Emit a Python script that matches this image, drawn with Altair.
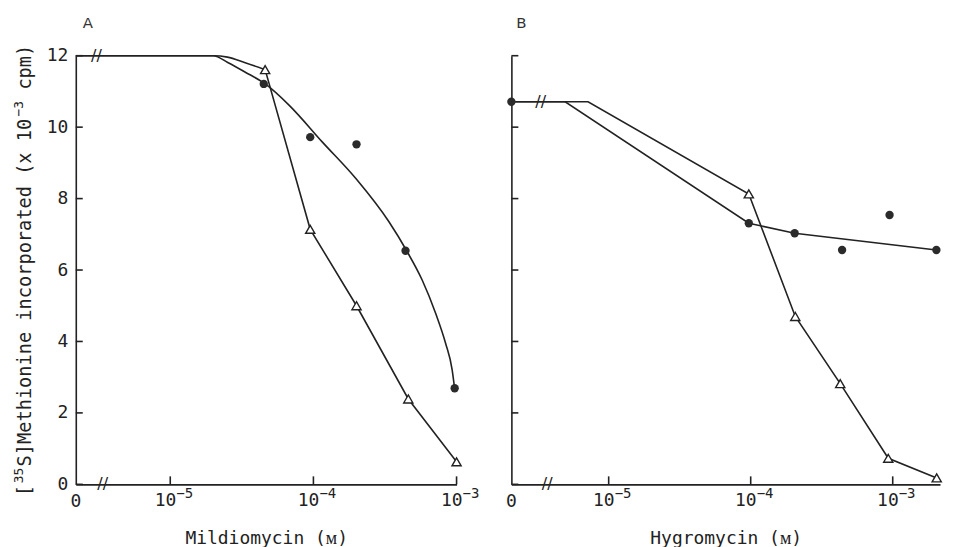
import altair as alt
import pandas as pd
import numpy as np

# ---------------- Panel A : Mildiomycin ----------------
A_TRI_CONC = [4.6e-5, 9.5e-5, 2.0e-4, 4.6e-4, 1.0e-3]
A_TRI_VAL = [11.61, 7.14, 5.00, 2.39, 0.63]
A_CIR_CONC = [4.5e-5, 9.5e-5, 2.0e-4, 4.4e-4, 9.7e-4]
A_CIR_VAL = [11.21, 9.72, 9.52, 6.54, 2.69]
# curved start of the triangle line, as drawn
A_TRI_CURVE_CONC = [0, 2.0e-5, 2.51e-5, 3.30e-5, 4.6e-5]
A_TRI_CURVE_VAL = [12.0, 12.0, 11.96, 11.81, 11.61]
# smooth curve drawn through the circles
A_FIT_CONC = [0, 2.0e-5, 2.52e-5, 3.30e-5, 4.61e-5, 6.78e-5, 1.156e-4, 1.98e-4,
              3.37e-4, 4.48e-4, 5.75e-4, 7.14e-4, 8.38e-4, 9.31e-4, 9.68e-4]
A_FIT_VAL = [12.0, 12.0, 11.81, 11.55, 11.21, 10.61, 9.58, 8.56,
             7.35, 6.54, 5.72, 4.79, 3.95, 3.21, 2.70]

# ---------------- Panel B : Hygromycin ----------------
B_CIR_CONC = [0, 9.7e-5, 2.04e-4, 4.4e-4, 9.5e-4, 2.03e-3]
B_CIR_VAL = [10.71, 7.31, 7.03, 6.56, 7.54, 6.56]
B_TRI_CONC = [9.7e-5, 2.06e-4, 4.27e-4, 9.3e-4, 2.04e-3]
B_TRI_VAL = [8.13, 4.70, 2.82, 0.73, 0.18]
B_CIR_LINE_CONC = [0, 4.94e-6, 9.7e-5, 2.04e-4, 2.03e-3]
B_CIR_LINE_VAL = [10.71, 10.71, 7.31, 7.03, 6.56]
B_TRI_LINE_CONC = [0, 7.16e-6] + B_TRI_CONC
B_TRI_LINE_VAL = [10.71, 10.71] + B_TRI_VAL

Y_TICKS = [0, 2, 4, 6, 8, 10, 12]
X_TICK_EXP = [-5, -4, -3]

# y title pieces: text, is superscript
Y_TITLE_PARTS = ["[", "35", "S]Methionine incorporated (x 10", "\u22123", "cpm)"]
Y_TITLE_SUP = [False, True, False, True, False]
Y_TITLE_START = [442, 429, 412, 61, 34]   # px from plot top where each piece begins

MONO = "DejaVu Sans Mono"
INK = "#222222"
H = 430


def xpos(conc, zero):
    return [float(np.log10(c)) if c > 0 else zero for c in conc]


def df_of(conc, val, zero):
    return pd.DataFrame({"x": xpos(conc, zero), "v": val, "i": range(len(val))})


def panel(letter, letter_x, xtitle, zero, xmax, width, lines, circles,
          triangles, breaks, show_y):
    xs = alt.Scale(domain=[zero, xmax], zero=False, nice=False)
    ys = alt.Scale(domain=[0, 12], zero=False, nice=False)
    xaxis = alt.Axis(values=[zero] + X_TICK_EXP, labels=False, ticks=False,
                     tickSize=0, grid=False, domainColor=INK, domainWidth=1.6,
                     title=xtitle, titleFont=MONO, titleFontSize=18,
                     titleFontWeight="normal", titleColor=INK, titlePadding=45)
    if show_y:
        yaxis = alt.Axis(values=Y_TICKS, ticks=False, tickSize=0, grid=False,
                         domainColor=INK, domainWidth=1.6, labelFont=MONO,
                         labelFontSize=18, labelColor=INK, labelPadding=8,
                         labelFlush=False, title=None)
    else:
        yaxis = alt.Axis(values=Y_TICKS, ticks=False, tickSize=0, grid=False,
                         domainColor=INK, domainWidth=1.6, labels=False,
                         title=None)

    layers = []
    first = True
    for conc, val, interp in lines:
        d = df_of(conc, val, zero)
        if first:
            enc = dict(x=alt.X("x:Q", scale=xs, axis=xaxis),
                       y=alt.Y("v:Q", scale=ys, axis=yaxis))
            first = False
        else:
            enc = dict(x=alt.X("x:Q", scale=xs), y=alt.Y("v:Q", scale=ys))
        layers.append(alt.Chart(d).mark_line(color=INK, strokeWidth=1.6,
                                             interpolate=interp)
                      .encode(order="i:O", **enc))

    # inward ticks
    yt = pd.DataFrame({"v": Y_TICKS})
    layers.append(alt.Chart(yt).mark_rule(color=INK, strokeWidth=1.6).encode(
        y=alt.Y("v:Q", scale=ys), x=alt.value(0), x2=alt.value(7)))
    xt = pd.DataFrame({"x": [float(e) for e in X_TICK_EXP],
                       "base": ["10"] * len(X_TICK_EXP),
                       "sup": ["\u2212" + str(abs(e)) for e in X_TICK_EXP]})
    layers.append(alt.Chart(xt).mark_rule(color=INK, strokeWidth=1.6).encode(
        x=alt.X("x:Q", scale=xs), y=alt.value(H), y2=alt.value(H - 8)))
    # tick labels 10^n drawn with a raised exponent
    layers.append(alt.Chart(xt).mark_text(align="right", dx=6,
                                          baseline="alphabetic", font=MONO,
                                          fontSize=18, color=INK).encode(
        x=alt.X("x:Q", scale=xs), y=alt.value(H + 22), text="base:N"))
    layers.append(alt.Chart(xt).mark_text(align="left", dx=6,
                                          baseline="alphabetic", font=MONO,
                                          fontSize=14, color=INK).encode(
        x=alt.X("x:Q", scale=xs), y=alt.value(H + 14), text="sup:N"))
    zd = pd.DataFrame({"x": [zero], "t": ["0"]})
    layers.append(alt.Chart(zd).mark_text(align="center",
                                          baseline="alphabetic", font=MONO,
                                          fontSize=18, color=INK).encode(
        x=alt.X("x:Q", scale=xs), y=alt.value(H + 23), text="t:N"))

    # y axis title with raised superscripts (rotated text pieces)
    if show_y:
        for txt, sup, start in zip(Y_TITLE_PARTS, Y_TITLE_SUP, Y_TITLE_START):
            td_ = pd.DataFrame({"t": [txt]})
            layers.append(alt.Chart(td_).mark_text(
                angle=270, align="left", baseline="alphabetic", font=MONO,
                fontSize=13 if sup else 18.7, color=INK).encode(
                x=alt.value(-52.5 if sup else -44.5), y=alt.value(start),
                text="t:N"))

    # axis breaks
    bd = pd.DataFrame({"x": [b[0] for b in breaks], "v": [b[1] for b in breaks]})
    layers.append(alt.Chart(bd).mark_text(text="//", font="DejaVu Sans",
                                          fontSize=16, color=INK).encode(
        x=alt.X("x:Q", scale=xs), y=alt.Y("v:Q", scale=ys)))

    cd = df_of(circles[0], circles[1], zero)
    layers.append(alt.Chart(cd).mark_point(shape="circle", filled=True,
                                           color="#2b2b2b", size=70, opacity=1)
                  .encode(x=alt.X("x:Q", scale=xs), y=alt.Y("v:Q", scale=ys)))
    td = df_of(triangles[0], triangles[1], zero)
    layers.append(alt.Chart(td).mark_point(shape="triangle-up", filled=True,
                                           fill="white", stroke=INK,
                                           strokeWidth=1.4, size=85, opacity=1)
                  .encode(x=alt.X("x:Q", scale=xs), y=alt.Y("v:Q", scale=ys)))

    # panel letter
    ld = pd.DataFrame({"t": [letter]})
    layers.append(alt.Chart(ld).mark_text(font="DejaVu Sans", fontSize=15,
                                          color="#333333", baseline="middle",
                                          align="center").encode(
        x=alt.value(letter_x), y=alt.value(-33), text="t:N"))

    return alt.layer(*layers).properties(width=width, height=H)


A_ZERO, B_ZERO = -5.66, -5.685
left = panel("A", 12, "Mildiomycin (\u1d0d)", A_ZERO, -3.0, 382,
             [(A_TRI_CURVE_CONC, A_TRI_CURVE_VAL, "monotone"),
              (A_TRI_CONC, A_TRI_VAL, "linear"),
              (A_FIT_CONC, A_FIT_VAL, "monotone")],
             (A_CIR_CONC, A_CIR_VAL), (A_TRI_CONC, A_TRI_VAL),
             [(-5.516, 12.0), (-5.472, 0.0)], True)
right = panel("B", 10, "Hygromycin (\u1d0d)", B_ZERO, -2.667, 430,
              [(B_TRI_LINE_CONC, B_TRI_LINE_VAL, "linear"),
               (B_CIR_LINE_CONC, B_CIR_LINE_VAL, "linear")],
              (B_CIR_CONC, B_CIR_VAL), (B_TRI_CONC, B_TRI_VAL),
              [(-5.479, 10.71), (-5.433, 0.0)], False)

chart = alt.hconcat(left, right, spacing=55, bounds="flush").properties(
    padding={"left": 5, "top": 7, "right": 0, "bottom": 0},
    background="white",
).configure_view(stroke=None)

chart.save("out.html", embed_options={"renderer": "svg", "actions": False})
